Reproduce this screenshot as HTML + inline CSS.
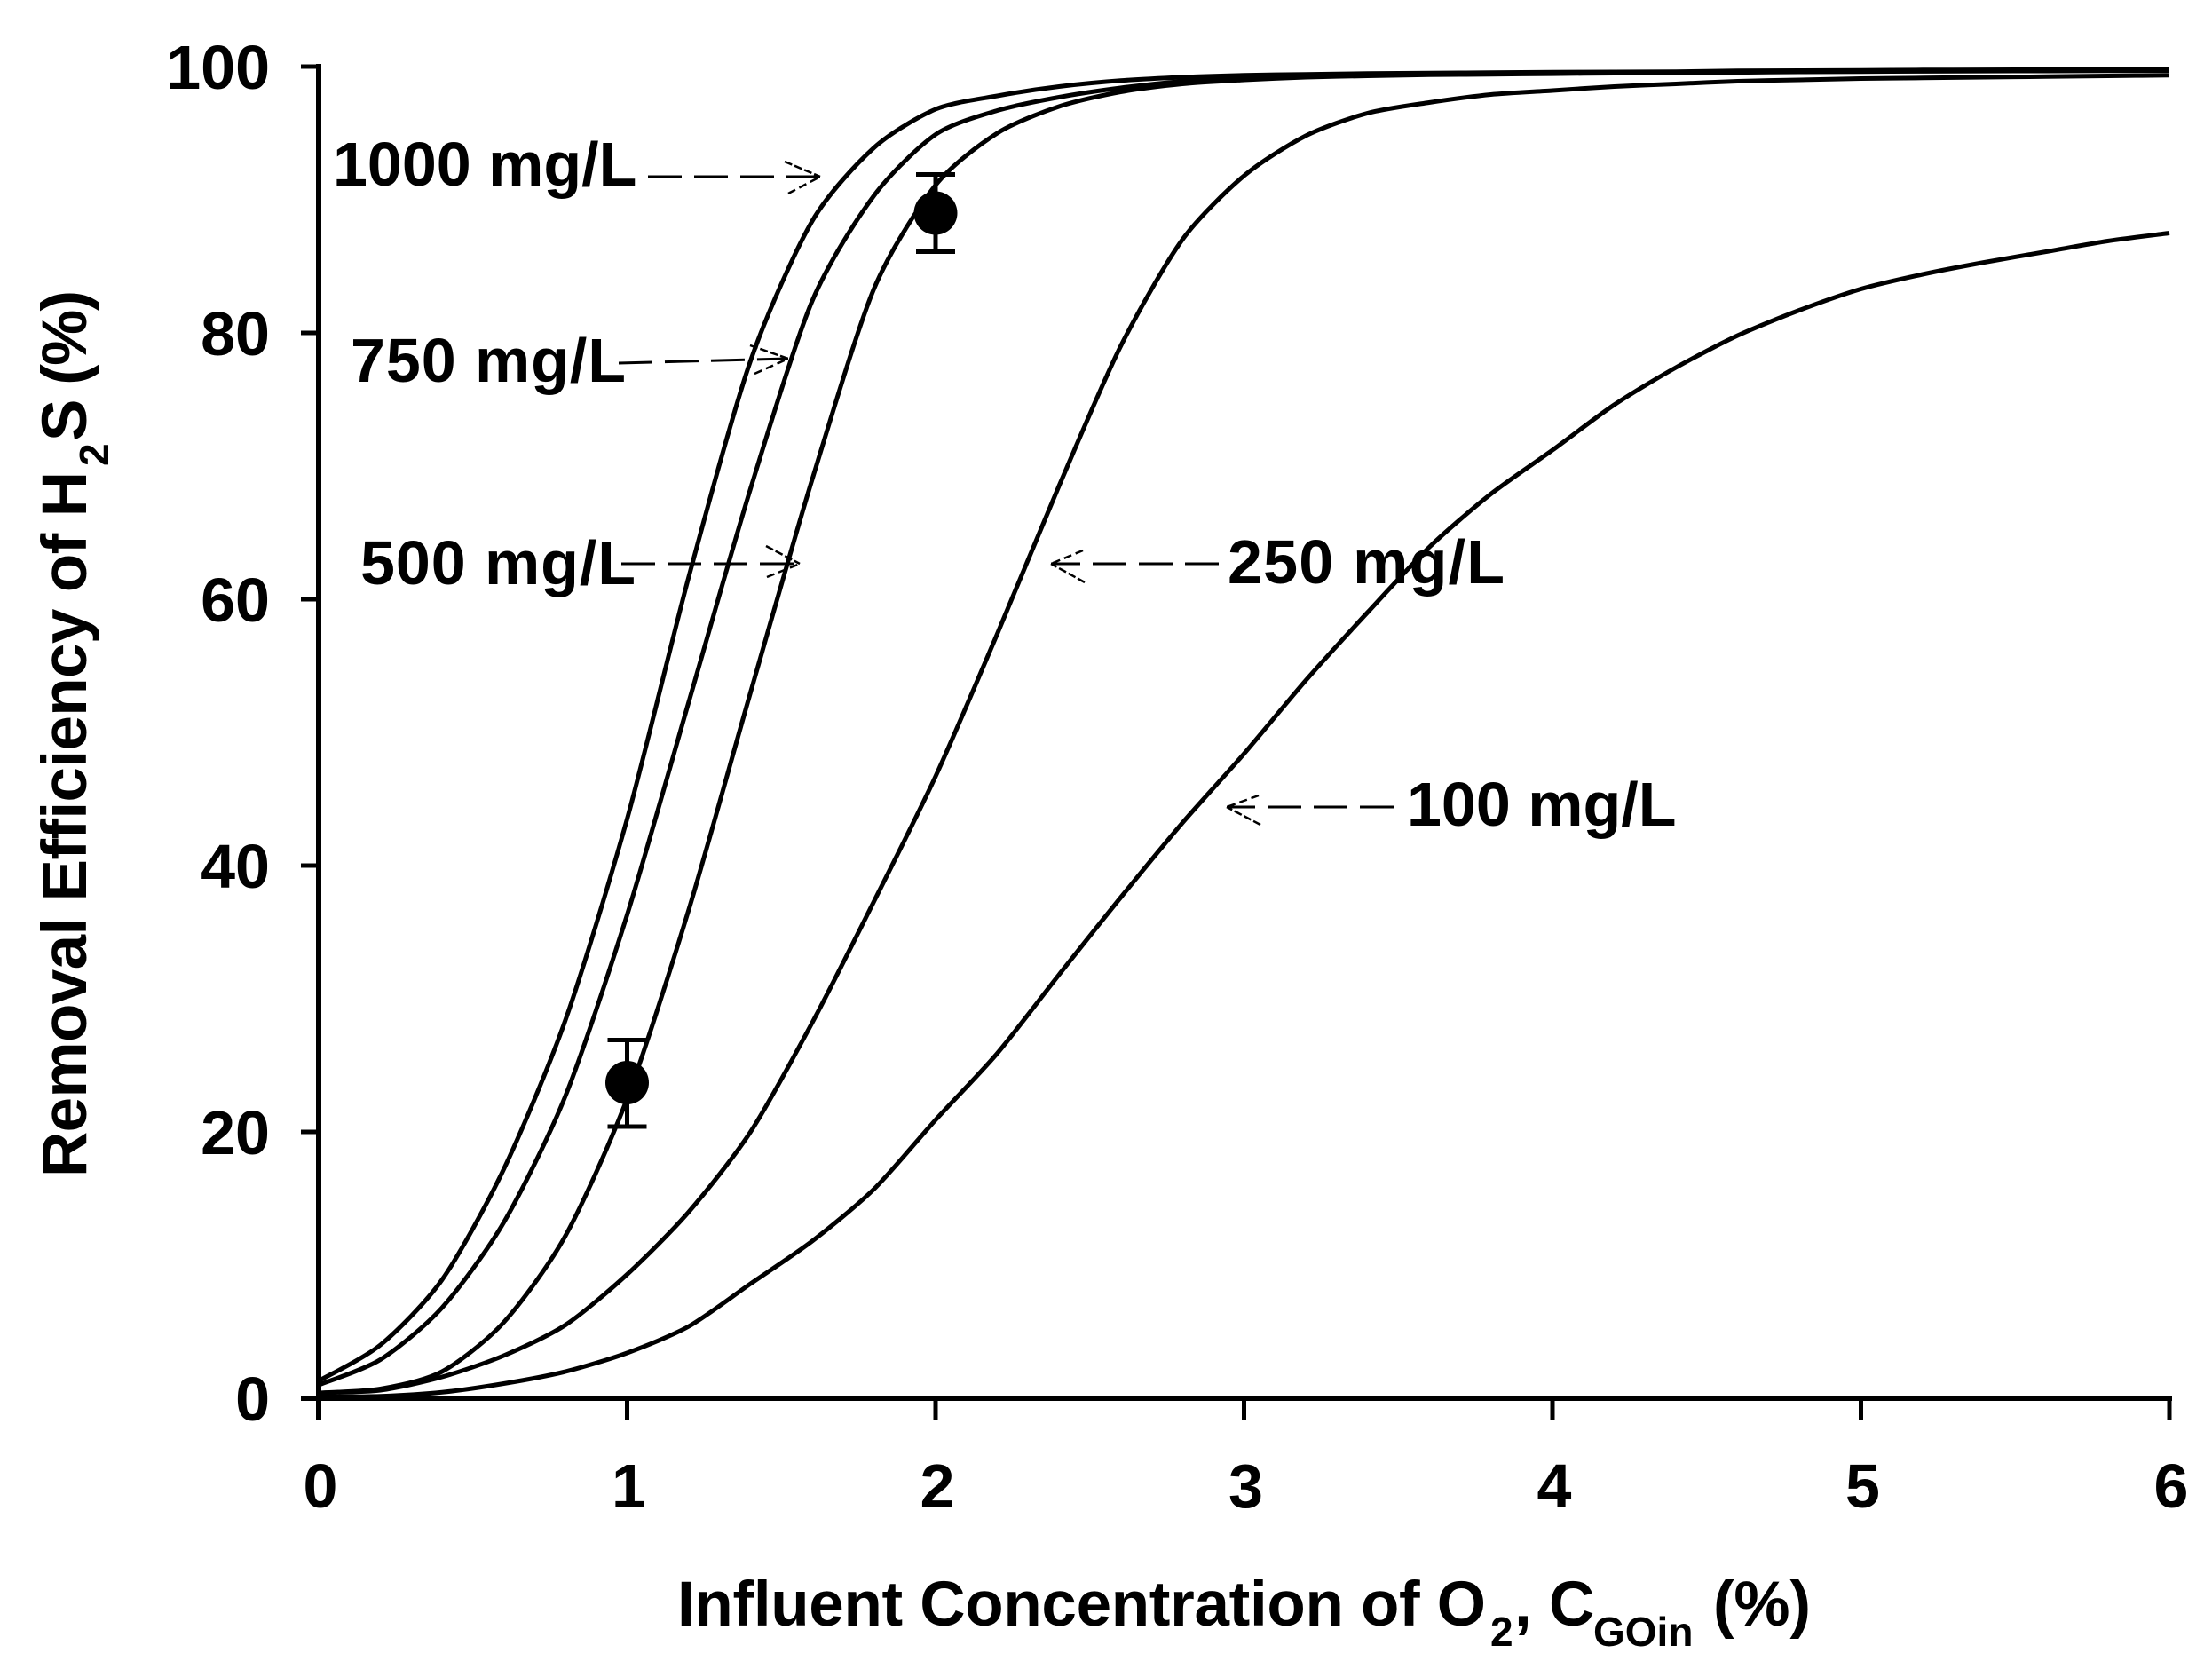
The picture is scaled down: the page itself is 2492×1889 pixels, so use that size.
<!DOCTYPE html>
<html lang="en">
<head>
<meta charset="utf-8">
<title>Removal Efficiency of H2S vs Influent O2</title>
<style>
  html, body { margin: 0; padding: 0; background: #fff; }
  svg { display: block; }
  text { font-family: "Liberation Sans", Arial, sans-serif; font-weight: bold; fill: #000; }
</style>
</head>
<body>
<svg id="chart" xmlns="http://www.w3.org/2000/svg" width="2492" height="1889" viewBox="0 0 2492 1889">
  <rect x="0" y="0" width="2492" height="1889" fill="#fff"/>
  <g id="series-layer"></g>
  <g id="axis-layer"></g>
  <g id="marker-layer"></g>

  <g transform="translate(97,1326) rotate(-90)">
    <text x="0" y="0" font-size="71" textLength="795">Removal Efficiency of H</text>
    <text x="801" y="25" font-size="46">2</text>
    <text x="829" y="0" font-size="71" textLength="170">S (%)</text>
  </g>

  <g>
    <text x="763" y="1831" font-size="71" textLength="911">Influent Concentration of O</text>
    <text x="1679" y="1854" font-size="46">2</text>
    <text x="1706" y="1831" font-size="71">,</text>
    <text x="1745" y="1831" font-size="71">C</text>
    <text x="1795" y="1854" font-size="46">GOin</text>
    <text x="1930" y="1831" font-size="71" textLength="110">(%)</text>
  </g>

  <g>
    <text x="375" y="209" font-size="70">1000 mg/L</text>
    <text x="395" y="430" font-size="70" textLength="310">750 mg/L</text>
    <text x="406" y="658" font-size="70" textLength="310">500 mg/L</text>
    <text x="1383" y="657" font-size="70" textLength="312">250 mg/L</text>
    <text x="1585" y="930" font-size="70">100 mg/L</text>
  </g>

  <g fill="none" stroke="#000" stroke-width="3">
    <g>
      <line x1="730" y1="199" x2="924" y2="199" stroke-dasharray="38,14"/>
      <path d="M884 182 L924 199" stroke-dasharray="9,3" stroke-width="2.5"/><path d="M888 218 L924 199" stroke-dasharray="9,5" stroke-width="2.5"/>
    </g>
    <g>
      <line x1="697" y1="409" x2="888" y2="404" stroke-dasharray="38,14"/>
      <path d="M845 389 L888 404" stroke-dasharray="9,3" stroke-width="2.5"/><path d="M850 421 L888 404" stroke-dasharray="9,5" stroke-width="2.5"/>
    </g>
    <g>
      <line x1="700" y1="635" x2="901" y2="635" stroke-dasharray="38,14"/>
      <path d="M863 615 L901 635" stroke-dasharray="9,3" stroke-width="2.5"/><path d="M864 650 L901 635" stroke-dasharray="9,5" stroke-width="2.5"/>
    </g>
    <g>
      <line x1="1373" y1="635" x2="1184" y2="635" stroke-dasharray="38,14"/>
      <path d="M1222 656 L1184 635" stroke-dasharray="9,3" stroke-width="2.5"/><path d="M1220 620 L1184 635" stroke-dasharray="9,5" stroke-width="2.5"/>
    </g>
    <g>
      <line x1="1570" y1="909" x2="1382" y2="909" stroke-dasharray="38,14"/>
      <path d="M1420 929 L1382 909" stroke-dasharray="9,3" stroke-width="2.5"/><path d="M1418 896 L1382 909" stroke-dasharray="9,5" stroke-width="2.5"/>
    </g>
  </g>
</svg>

<script>
// Shared x values: influent O2 (%)
const xValues = [0,0.2,0.4,0.6,0.8,1,1.2,1.4,1.6,1.8,2,2.2,2.4,2.6,2.8,3,3.2,3.4,3.6,3.8,4,4.2,4.4,4.6,4.8,5,5.2,5.4,5.6,5.8,6];

// Removal efficiency (%) per H2S inlet concentration
const series1000 = [1.3,4.0,8.9,17.2,28.4,43.5,61.7,77.9,88.4,93.9,96.8,97.8,98.5,98.95,99.2,99.35,99.42,99.48,99.52,99.55,99.58,99.6,99.62,99.68,99.7,99.72,99.75,99.76,99.78,99.79,99.8];
const series750 = [1.0,2.9,6.8,13.2,22.7,36.3,52.3,68.3,82.4,90.3,94.9,96.7,97.7,98.4,98.9,99.2,99.33,99.4,99.46,99.5,99.53,99.56,99.58,99.62,99.65,99.67,99.7,99.71,99.72,99.74,99.75];
const series500 = [0.4,0.7,2.0,5.7,12.2,22.5,36.7,53.0,69.0,83.3,91.1,95.0,97.0,98.1,98.7,99.0,99.2,99.3,99.38,99.42,99.46,99.5,99.52,99.56,99.6,99.62,99.64,99.66,99.67,99.68,99.7];
const series250 = [0.4,0.6,1.6,3.2,5.5,9.3,14.0,20.0,28.2,37.3,46.7,57.4,68.5,79.0,87.0,91.8,94.8,96.5,97.3,97.9,98.2,98.5,98.7,98.9,99.0,99.1,99.15,99.2,99.25,99.3,99.35];
const series100 = [0.1,0.15,0.45,1.1,2.0,3.4,5.4,8.6,11.8,15.7,20.9,25.9,31.8,37.6,43.2,48.4,53.9,59.0,63.9,67.9,71.2,74.6,77.4,79.8,81.7,83.3,84.4,85.3,86.1,86.9,87.5];

// Measured points with error limits
const pointX = [1, 2];
const pointY = [23.7, 89.0];
const pointUpper = [26.9, 91.9];
const pointLower = [20.4, 86.1];

// Tick labels
const xTicks = [0,1,2,3,4,5,6];
const yTicks = [0,20,40,60,80,100];

const SVG_NS = 'http://www.w3.org/2000/svg';
function xScale(v) { return 359 + v * 347.5; }
function yScale(v) { return 1575 - v * 15; }

function make(tag, attrs, parent) {
  const el = document.createElementNS(SVG_NS, tag);
  for (const k in attrs) el.setAttribute(k, attrs[k]);
  parent.appendChild(el);
  return el;
}

const seriesLayer = document.getElementById('series-layer');
const axisLayer = document.getElementById('axis-layer');
const markerLayer = document.getElementById('marker-layer');

// Smooth path through the data points (Catmull-Rom style)
function smoothPath(values) {
  const p = values.map(function (v, i) { return [xScale(xValues[i]), yScale(v)]; });
  const k = 0.13;
  let d = 'M' + p[0][0].toFixed(1) + ' ' + p[0][1].toFixed(1);
  for (let i = 0; i < p.length - 1; i++) {
    const a = p[Math.max(i - 1, 0)], b = p[i], c = p[i + 1], e = p[Math.min(i + 2, p.length - 1)];
    d += ' C' + (b[0] + (c[0] - a[0]) * k).toFixed(1) + ' ' + (b[1] + (c[1] - a[1]) * k).toFixed(1) +
         ' ' + (c[0] - (e[0] - b[0]) * k).toFixed(1) + ' ' + (c[1] - (e[1] - b[1]) * k).toFixed(1) +
         ' ' + c[0].toFixed(1) + ' ' + c[1].toFixed(1);
  }
  return d;
}

function drawCurve(values, name) {
  const line = make('path', { d: smoothPath(values), fill: 'none', stroke: '#000', 'stroke-width': 5, 'stroke-linejoin': 'round' }, seriesLayer);
  
  
}
drawCurve(series1000, 'curve-1000-mg-l');
drawCurve(series750, 'curve-750-mg-l');
drawCurve(series500, 'curve-500-mg-l');
drawCurve(series250, 'curve-250-mg-l');
drawCurve(series100, 'curve-100-mg-l');

// Axis lines
const yAxisLine = make('line', { x1: xScale(0), x2: xScale(0), y1: yScale(100) - 3, y2: yScale(0) + 25, stroke: '#000', 'stroke-width': 6 }, axisLayer);


const xAxisLine = make('line', { x1: xScale(0) - 20, x2: xScale(6) + 3, y1: yScale(0), y2: yScale(0), stroke: '#000', 'stroke-width': 6 }, axisLayer);



// Y ticks and labels
yTicks.forEach(function (t) {
  const tick = make('line', { x1: xScale(0) - 20, x2: xScale(0), y1: yScale(t), y2: yScale(t), stroke: '#000', 'stroke-width': 5 }, axisLayer);
  
  
  const label = make('text', { x: 304, y: yScale(t) + 25, 'font-size': 70, 'text-anchor': 'end' }, axisLayer);
  
  
  label.textContent = t;
});

// X ticks and labels
xTicks.forEach(function (t) {
  const tick = make('line', { x1: xScale(t), x2: xScale(t), y1: yScale(0), y2: yScale(0) + 25, stroke: '#000', 'stroke-width': 5 }, axisLayer);
  
  
  const label = make('text', { x: xScale(t) + 2, y: 1698, 'font-size': 70, 'text-anchor': 'middle' }, axisLayer);
  
  
  label.textContent = t;
});

// Measured points with error bars
pointX.forEach(function (px, i) {
  const cx = xScale(px);
  const stem = make('line', { x1: cx, x2: cx, y1: yScale(pointUpper[i]), y2: yScale(pointLower[i]), stroke: '#000', 'stroke-width': 5 }, markerLayer);
  
  
  const capTop = make('line', { x1: cx - 22, x2: cx + 22, y1: yScale(pointUpper[i]), y2: yScale(pointUpper[i]), stroke: '#000', 'stroke-width': 5 }, markerLayer);
  
  
  const capBottom = make('line', { x1: cx - 22, x2: cx + 22, y1: yScale(pointLower[i]), y2: yScale(pointLower[i]), stroke: '#000', 'stroke-width': 5 }, markerLayer);
  
  
  const dot = make('circle', { cx: cx, cy: yScale(pointY[i]), r: 24.5, fill: '#000' }, markerLayer);
  
  
});
</script>
</body>
</html>
